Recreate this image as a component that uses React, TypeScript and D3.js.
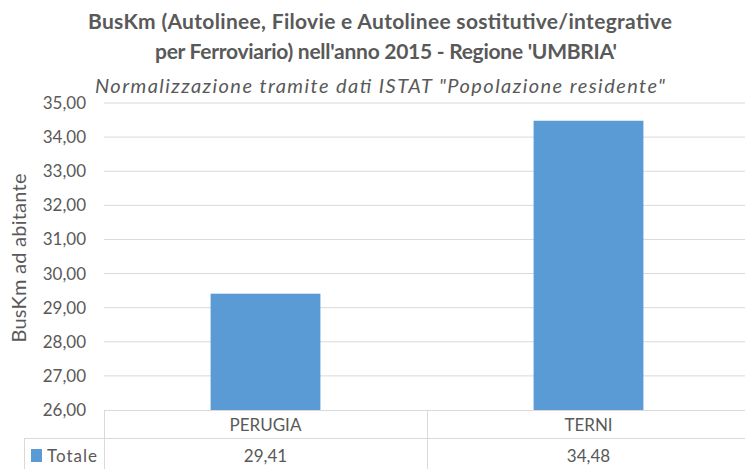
import React from 'react';
import * as d3 from 'd3';

const categories = ['PERUGIA', 'TERNI'];
const values = [29.41, 34.48];
const seriesName = 'Totale';
const yTicks = [26, 27, 28, 29, 30, 31, 32, 33, 34, 35];
const titleLines = [
    "BusKm (Autolinee, Filovie e Autolinee sostitutive/integrative",
    "per Ferroviario) nell'anno 2015 - Regione 'UMBRIA'",
];
const subtitle = 'Normalizzazione tramite dati ISTAT "Popolazione residente"';
const yTitle = 'BusKm ad abitante';

const W = 745, H = 469;
const margin = {left: 104, right: -5, top: 103, bottom: 59};
const font = "Lato, 'Open Sans', sans-serif";
const grey = '#595959';
const lineCol = '#d9d9d9';
const barCol = '#5b9bd5';

const fmt = (v: number) => v.toFixed(2).replace('.', ',');

export default function App() {
    const plotBottom = H - margin.bottom;
    const x = d3.scaleBand<string>()
        .domain(categories)
        .range([margin.left, W - margin.right])
        .paddingInner(0.66)
        .paddingOuter(0.33);
    const y = d3.scaleLinear()
        .domain([26, 35])
        .range([plotBottom, margin.top]);

    const rowTop = plotBottom;
    const rowMid = 438;
    const tableLeft = 24;
    const step = x.step();
    const bandStart = (c: string) => (x(c) ?? 0) - step * x.paddingInner() / 2;

    return (
        <svg width={W} height={H} style={{position: 'absolute', left: 0, top: 0}}
             viewBox={`0 0 ${W} ${H}`} fontFamily={font}>
            <rect width={W} height={H} fill="#fff"/>

            <text x={380} y={29} textAnchor="middle" fontSize={21} fontWeight="bold"
                  fill={grey} textLength={584}>{titleLines[0]}</text>
            <text x={386} y={59} textAnchor="middle" fontSize={21} fontWeight="bold"
                  fill={grey} textLength={462}>{titleLines[1]}</text>
            <text x={380} y={93} textAnchor="middle" fontSize={20}
                  fontStyle="italic" fill={grey} textLength={570}>{subtitle}</text>

            {yTicks.map(t => (
                <g key={t}>
                    {t > 26 && <line x1={margin.left} x2={W} y1={y(t)} y2={y(t)}
                                     stroke={lineCol} strokeWidth={1}/>}
                    <text x={86} y={y(t)} dy="0.35em" textAnchor="end"
                          fontSize={17} fill={grey}>{fmt(t)}</text>
                </g>
            ))}

            <text transform={`translate(26, 258) rotate(-90)`}
                  textAnchor="middle" fontSize={20} fill={grey} textLength={169}>{yTitle}</text>

            {categories.map((c, i) => (
                <rect key={c} x={x(c)} width={x.bandwidth()}
                      y={y(values[i])} height={plotBottom - y(values[i])}
                      fill={barCol}/>
            ))}

            <g stroke={lineCol} strokeWidth={1} fill="none">
                <line x1={margin.left} x2={W} y1={rowTop + 0.5} y2={rowTop + 0.5}/>
                <line x1={tableLeft} x2={W} y1={rowMid + 0.5} y2={rowMid + 0.5}/>
                <line x1={margin.left + 0.5} x2={margin.left + 0.5} y1={rowTop} y2={H}/>
                <line x1={tableLeft + 0.5} x2={tableLeft + 0.5} y1={rowMid} y2={H}/>
                {categories.slice(1).map(c => (
                    <line key={c} x1={bandStart(c) + 0.5} x2={bandStart(c) + 0.5} y1={rowTop} y2={H}/>
                ))}
            </g>

            {categories.map((c, i) => {
                const cx = (x(c) ?? 0) + x.bandwidth() / 2;
                return (
                    <g key={c} fontSize={17} fill={grey} textAnchor="middle">
                        <text x={cx} y={(rowTop + rowMid) / 2 + 1} dy="0.35em">{c}</text>
                        <text x={cx} y={rowMid + 18} dy="0.35em">{fmt(values[i])}</text>
                    </g>
                );
            })}

            <rect x={31} y={449} width={11} height={13} fill={barCol}/>
            <text x={47} y={456} dy="0.35em" fontSize={17} fill={grey} textLength={50}>{seriesName}</text>
        </svg>
    );
}
